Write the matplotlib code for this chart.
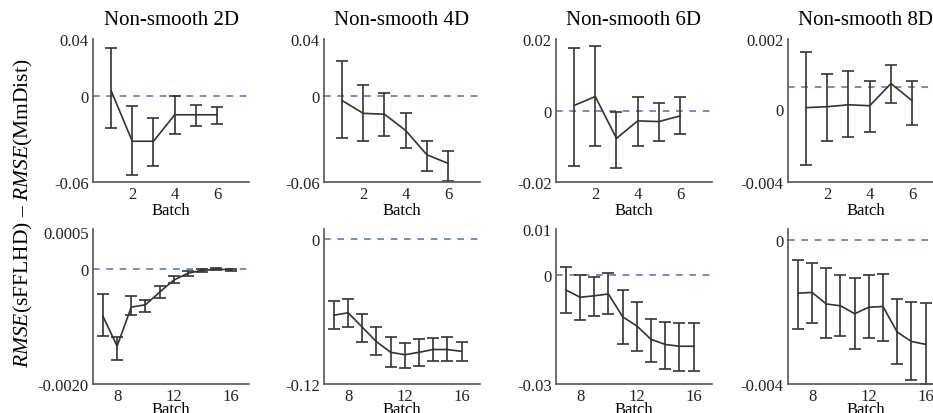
import matplotlib
matplotlib.use("Agg")
import matplotlib.pyplot as plt
import numpy as np

plt.rcParams["font.family"] = ["Liberation Serif", "DejaVu Serif"]
plt.rcParams["mathtext.fontset"] = "custom"
plt.rcParams["mathtext.rm"] = "Liberation Serif"
plt.rcParams["mathtext.it"] = "Liberation Serif:italic"

titles = ["Non-smooth 2D", "Non-smooth 4D", "Non-smooth 6D", "Non-smooth 8D"]

batch_top = [1, 2, 3, 4, 5, 6]
batch_bot = [7, 8, 9, 10, 11, 12, 13, 14, 15, 16]

# top row: mean, upper end, lower end of error bar
top_mean = [
    [0.004, -0.0315, -0.0315, -0.013, -0.013, -0.013],
    [-0.003, -0.012, -0.0126, -0.024, -0.041, -0.047],
    [0.0014, 0.0039, -0.0078, -0.0029, -0.0031, -0.0015],
    [-0.00088, -0.00084, -0.00076, -0.0008, 0.00013, -0.00059],
]
top_hi = [
    [0.034, -0.007, -0.015, 0.0, -0.006, -0.0077],
    [0.0245, 0.008, 0.002, -0.012, -0.031, -0.038],
    [0.0176, 0.018, -0.0003, 0.0039, 0.0021, 0.0037],
    [0.00147, 0.00055, 0.00067, 0.00025, 0.00092, 0.00025],
]
top_lo = [
    [-0.022, -0.055, -0.049, -0.0266, -0.021, -0.0196],
    [-0.029, -0.0315, -0.028, -0.036, -0.052, -0.059],
    [-0.0154, -0.010, -0.016, -0.0098, -0.0084, -0.0066],
    [-0.0033, -0.0023, -0.0021, -0.0019, -0.00067, -0.0016],
]

bot_mean = [
    [-0.00082, -0.00134, -0.00066, -0.00062, -0.0004, -0.00019, -0.00007, -0.00002, 0.0, -0.00001],
    [-0.0629, -0.0609, -0.0729, -0.0849, -0.0937, -0.0957, -0.0937, -0.0914, -0.0914, -0.0929],
    [-0.0041, -0.0061, -0.0057, -0.0052, -0.0115, -0.014, -0.0177, -0.0191, -0.0196, -0.0196],
    [-0.00148, -0.00146, -0.00178, -0.00183, -0.00205, -0.00187, -0.00185, -0.00256, -0.00282, -0.0029],
]
bot_hi = [
    [-0.00043, -0.00118, -0.00047, -0.00053, -0.00029, -0.00012, -0.00003, 0.00001, 0.00002, 0.00001],
    [-0.0514, -0.0494, -0.0623, -0.0729, -0.0814, -0.0863, -0.0829, -0.082, -0.0814, -0.0851],
    [0.0021, 0.0, -0.0005, 0.0007, -0.0041, -0.0073, -0.012, -0.0129, -0.0132, -0.0132],
    [-0.00055, -0.00063, -0.00077, -0.00098, -0.00106, -0.00098, -0.00096, -0.00165, -0.00172, -0.00175],
]
bot_lo = [
    [-0.00116, -0.00159, -0.00079, -0.00075, -0.0005, -0.00024, -0.00012, -0.00005, -0.00002, -0.00003],
    [-0.0743, -0.0729, -0.0849, -0.0963, -0.1057, -0.1066, -0.1049, -0.1011, -0.1006, -0.1011],
    [-0.0104, -0.0125, -0.0113, -0.0107, -0.0189, -0.021, -0.0239, -0.0259, -0.0264, -0.0264],
    [-0.00247, -0.0023, -0.00271, -0.00266, -0.00304, -0.00273, -0.00282, -0.00345, -0.0039, -0.004],
]

# axis limits and tick labels (as printed in the figure)
top_ylim = [(-0.06, 0.04), (-0.06, 0.04), (-0.02, 0.02), (-0.004, 0.002)]
top_yticks = [[-0.06, 0, 0.04], [-0.06, 0, 0.04], [-0.02, 0, 0.02], [-0.004, -0.00092, 0.002]]
top_ylabels = [["-0.06", "0", "0.04"], ["-0.06", "0", "0.04"],
               ["-0.02", "0", "0.02"], ["-0.004", "0", "0.002"]]
bot_ylim = [(-0.002, 0.0007), (-0.12, 0.0086), (-0.03, 0.0127), (-0.004, 0.0003)]
bot_yticks = [[-0.002, 0, 0.00065], [-0.12, 0], [-0.03, 0, 0.0127], [-0.004, 0]]
bot_ylabels = [["-0.0020", "0", "0.0005"], ["-0.12", "0"],
               ["-0.03", "0", "0.01"], ["-0.004", "0"]]

W, H = 933, 414
lefts = [93, 324, 556, 788]
AX_W = 156


def style_ax(ax):
    for s in ["top", "right"]:
        ax.spines[s].set_visible(False)
    for s in ["left", "bottom"]:
        ax.spines[s].set_color("#555555")
        ax.spines[s].set_linewidth(1.2)
    ax.tick_params(length=0, pad=3, labelsize=12, colors="#222222")


def draw_panel(ax, x, mean, hi, lo, ylim, yticks, ylabels, xlim, xticks, lpad):
    mean = np.array(mean)
    yerr = [mean - np.array(lo), np.array(hi) - mean]
    ax.axhline(0, color="#5f73d0", lw=1.2, ls=(0, (4, 4)), zorder=1)
    ax.errorbar(x, mean, yerr=yerr, color="#333333", lw=1.2, elinewidth=1.2,
                capsize=4, capthick=1.2, zorder=2)
    style_ax(ax)
    ax.set_xlim(*xlim)
    ax.set_ylim(*ylim)
    ax.set_xticks(xticks)
    ax.set_yticks(yticks)
    ax.set_yticklabels(ylabels)
    ax.set_xlabel("Batch", fontsize=12, labelpad=lpad)


fig = plt.figure(figsize=(W / 100, H / 100), dpi=100)

for i in range(4):
    ax = fig.add_axes([lefts[i] / W, 1 - 183 / H, AX_W / W, 143 / H])
    draw_panel(ax, batch_top, top_mean[i], top_hi[i], top_lo[i],
               top_ylim[i], top_yticks[i], top_ylabels[i], (0.15, 7.5), [2, 4, 6], 0)
    ax.set_title(titles[i], fontsize=15, pad=11)

    ax = fig.add_axes([lefts[i] / W, 1 - 385 / H, AX_W / W, 155 / H])
    draw_panel(ax, batch_bot, bot_mean[i], bot_hi[i], bot_lo[i],
               bot_ylim[i], bot_yticks[i], bot_ylabels[i], (6.3, 17.3), [8, 12, 16], -2)

fig.text(23 / W, 1 - 213 / H, r"$\mathit{RMSE}$(sFFLHD) – $\mathit{RMSE}$(MmDist)",
         rotation=90, va="center", ha="center", fontsize=15.5)

fig.savefig("out.png", dpi=100)
